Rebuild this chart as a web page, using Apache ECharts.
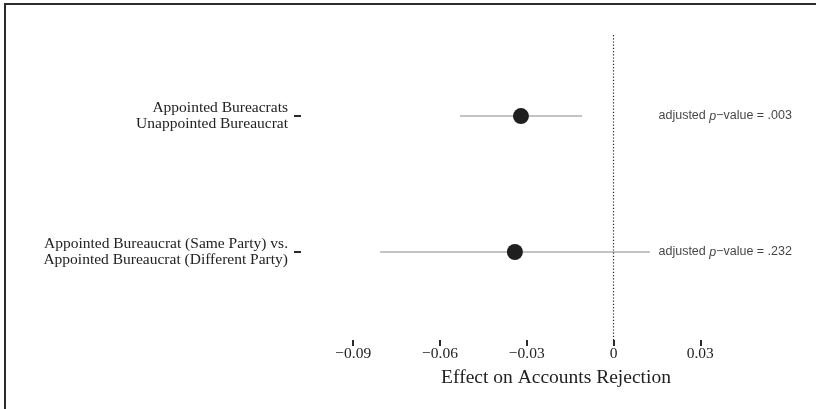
<!DOCTYPE html>
<html>
<head>
<meta charset="utf-8">
<script src="https://cdn.jsdelivr.net/npm/echarts@6/dist/echarts.min.js"></script>
<style>
  html, body { margin: 0; padding: 0; background: #fff; }
  #chart { width: 816px; height: 409px; }
</style>
</head>
<body>
<div id="chart"></div>
<script>
// Comparisons shown on the vertical axis (row 1 at the top)
const comparisons = [
  'Appointed Bureacrats\nUnappointed Bureaucrat',
  'Appointed Bureaucrat (Same Party) vs.\nAppointed Bureaucrat (Different Party)'
];
const rows = [1, 2];
// Point estimates and confidence bounds
const estimates = [-0.0320, -0.0341];
const lowerBounds = [-0.0531, -0.0807];
const upperBounds = [-0.0109, 0.0126];
// Adjusted p-values printed beside each row
const pValues = ['.003', '.232'];
const pValueX = 0.0617;
// Axis ticks
const xTicks = [-0.09, -0.06, -0.03, 0, 0.03];
const xTitle = 'Effect on Accounts Rejection';

const serif = '"Liberation Serif", "DejaVu Serif", serif';
const sans = '"Liberation Sans", Arial, sans-serif';
const ink = '#2a2a2a';

function fmtTick(v) {
  if (Math.abs(v) < 1e-9) return '0';
  const s = Math.abs(v).toFixed(2);
  return (v < 0 ? '\u2212' : '') + s;
}

const chart = echarts.init(document.getElementById('chart'), null, { renderer: 'canvas' });

const option = {
  backgroundColor: '#ffffff',
  animation: false,
  grid: { left: 301, right: 5, top: 35, height: 305, containLabel: false },
  xAxis: {
    type: 'value',
    min: -0.10806,
    max: 0.06829,
    splitLine: { show: false },
    axisLine: { show: false, onZero: false },
    axisTick: { show: true, length: 6, customValues: xTicks, lineStyle: { color: ink, width: 2 } },
    axisLabel: {
      customValues: xTicks,
      formatter: fmtTick,
      fontFamily: serif, fontSize: 15.5, color: '#222', margin: 6
    },
    name: xTitle,
    nameLocation: 'middle',
    nameGap: 28,
    nameMoveOverlap: false,
    nameTextStyle: { fontFamily: serif, fontSize: 19.5, color: '#222', verticalAlign: 'top' }
  },
  yAxis: {
    type: 'value',
    inverse: true,
    min: 0.404,
    max: 2.647,
    splitLine: { show: false },
    axisLine: { show: false, onZero: false },
    axisTick: { show: true, length: 7, customValues: rows, lineStyle: { color: ink, width: 2 } },
    axisLabel: {
      customValues: rows,
      formatter: v => comparisons[Math.round(v) - 1],
      fontFamily: serif, fontSize: 15.5, color: '#222', margin: 13,
      lineHeight: 15.5, align: 'right'
    }
  },
  series: [
    {
      // confidence intervals, one segment per row
      type: 'custom',
      renderItem: function (params, api) {
        const i = params.dataIndex;
        const a = api.coord([lowerBounds[i], rows[i]]);
        const b = api.coord([upperBounds[i], rows[i]]);
        return {
          type: 'line',
          shape: { x1: a[0], y1: a[1], x2: b[0], y2: b[1] },
          style: { stroke: '#c4c4c4', lineWidth: 2 }
        };
      },
      data: rows.map((r, i) => [lowerBounds[i], r, upperBounds[i]]),
      z: 2
    },
    {
      type: 'scatter',
      data: rows.map((r, i) => [estimates[i], r]),
      symbol: 'circle',
      symbolSize: 16,
      itemStyle: { color: '#1f1f1f', opacity: 1 },
      z: 4,
      markLine: {
        silent: true,
        symbol: ['none', 'none'],
        label: { show: false },
        lineStyle: { type: [1.2, 2], color: '#222', width: 1.2 },
        data: [{ xAxis: 0 }]
      }
    },
    {
      // adjusted p-value annotations
      type: 'scatter',
      symbolSize: 0,
      data: rows.map((r, i) => [pValueX, r]),
      label: {
        show: true,
        position: 'left',
        distance: 0,
        formatter: p => '{t|adjusted }{i|p}{t|\u2212value = ' + pValues[p.dataIndex] + '}',
        rich: {
          t: { fontFamily: sans, fontSize: 12.5, color: '#111' },
          i: { fontFamily: sans, fontSize: 12.5, color: '#111', fontStyle: 'italic' }
        }
      },
      z: 5
    }
  ],
  graphic: [
    { type: 'line', shape: { x1: 4, y1: 4, x2: 816, y2: 4 }, style: { stroke: '#2b2b2b', lineWidth: 2 } },
    { type: 'line', shape: { x1: 5, y1: 3, x2: 5, y2: 409 }, style: { stroke: '#2b2b2b', lineWidth: 2 } }
  ]
};

chart.setOption(option);
</script>
</body>
</html>
